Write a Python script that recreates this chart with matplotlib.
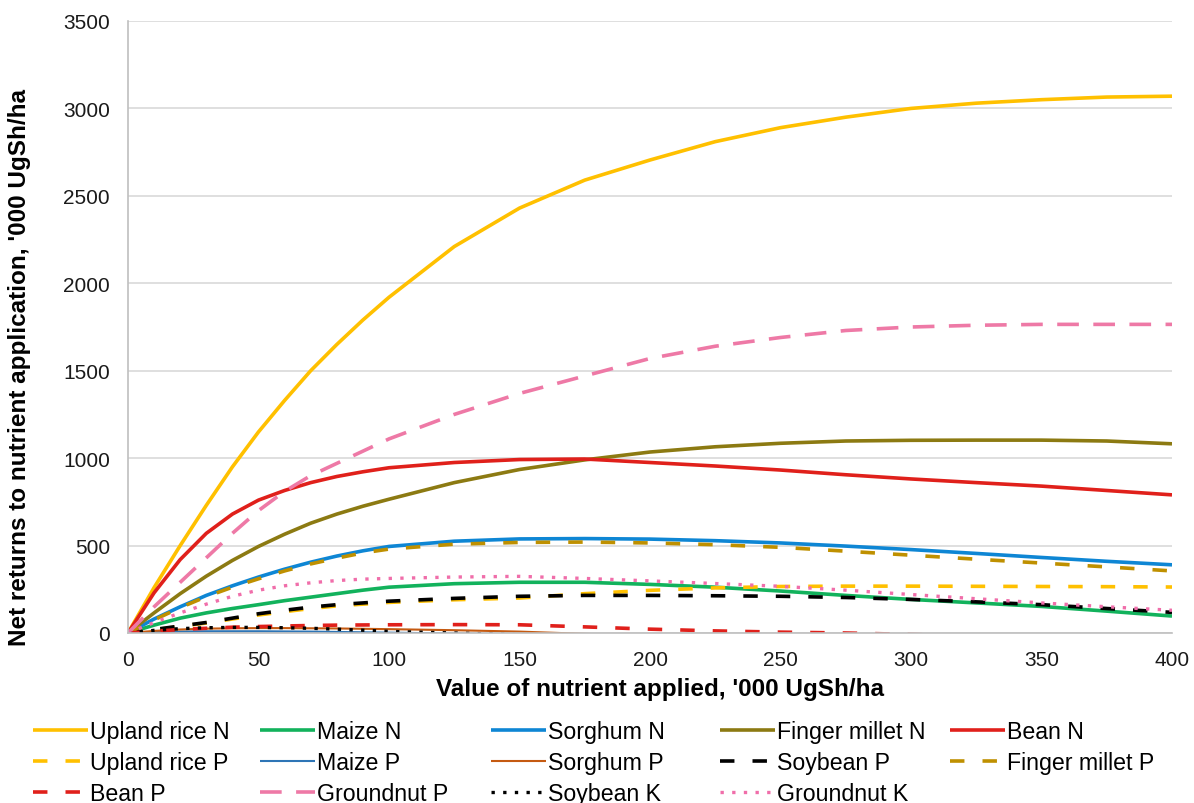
"""
Net returns to nutrient application vs value of nutrient applied,
one line per crop x nutrient. Saves out.png.
"""

import matplotlib.pyplot as plt

# =====================================================================
# DATA ('000 UgSh/ha)
# =====================================================================
nutrient_value = [0, 10, 20, 30, 40, 50, 60, 70, 80, 90, 100, 125, 150,
                  175, 200, 225, 250, 275, 300, 325, 350, 375, 400]

upland_rice_n = [0, 260, 500, 730, 950, 1150, 1330, 1500, 1650, 1790, 1920,
                 2210, 2430, 2590, 2705, 2810, 2890, 2950, 3000, 3030, 3050,
                 3065, 3070]
maize_n = [0, 45, 85, 115, 140, 162, 185, 205, 225, 245, 262, 282, 290,
           290, 278, 262, 240, 215, 192, 172, 152, 125, 97]
sorghum_n = [0, 80, 150, 215, 270, 320, 365, 405, 440, 470, 495, 525, 538,
             540, 537, 528, 515, 497, 477, 455, 432, 410, 390]
finger_millet_n = [0, 115, 225, 325, 415, 495, 565, 628, 680, 725, 765, 860,
                   935, 990, 1035, 1065, 1085, 1098, 1102, 1103, 1103, 1098,
                   1082]
bean_n = [0, 230, 420, 570, 680, 760, 815, 860, 895, 922, 945, 975, 992,
          995, 975, 955, 932, 905, 881, 860, 840, 815, 790]
upland_rice_p = [0, 18, 38, 57, 80, 103, 122, 140, 155, 165, 175, 190, 200,
                 225, 244, 258, 266, 268, 268, 267, 266, 265, 263]
maize_p = [0, 5, 8, 10, 10, 10, 9, 8, 6, 4, 2, -3, -10, -20, -30, -40, -50,
           -60, -70, -80, -90, -100, -110]
sorghum_p = [0, 12, 20, 25, 27, 28, 28, 27, 26, 24, 22, 16, 8, -5, -15, -25,
             -35, -45, -55, -65, -75, -85, -95]
soybean_p = [0, 20, 40, 60, 85, 110, 130, 148, 162, 172, 182, 198, 210, 215,
             215, 213, 210, 203, 192, 178, 162, 140, 118]
finger_millet_p = [0, 75, 145, 208, 262, 310, 355, 395, 428, 458, 480, 508,
                   518, 520, 515, 505, 490, 468, 445, 422, 400, 378, 355]
bean_p = [0, 10, 20, 27, 33, 37, 40, 43, 45, 46, 47, 48, 47, 35, 22, 12, 5,
          0, -8, -18, -30, -42, -55]
groundnut_p = [0, 150, 290, 430, 570, 700, 810, 900, 970, 1040, 1110, 1250,
               1370, 1470, 1570, 1640, 1690, 1730, 1750, 1760, 1765, 1765,
               1765]
soybean_k = [0, 15, 25, 30, 32, 32, 30, 27, 22, 16, 9, 0, -10, -20, -30, -40,
             -50, -60, -70, -80, -90, -100, -110]
groundnut_k = [0, 60, 115, 165, 210, 245, 270, 287, 300, 308, 312, 320, 324,
               312, 298, 283, 267, 245, 220, 196, 172, 150, 130]

DASH = (0, (4, 5))
LONG_DASH = (0, (6, 4))
DOT = (0, (1, 2.5))

# (label, values, colour, linestyle, linewidth)
SERIES = [
    ("Upland rice N", upland_rice_n, "#FFC000", "-", 2.6),
    ("Maize N", maize_n, "#12B25C", "-", 2.6),
    ("Sorghum N", sorghum_n, "#0E86D4", "-", 2.6),
    ("Finger millet N", finger_millet_n, "#8C7A12", "-", 2.6),
    ("Bean N", bean_n, "#E0201B", "-", 2.6),
    ("Upland rice P", upland_rice_p, "#FFC000", DASH, 2.6),
    ("Maize P", maize_p, "#2E75B6", "-", 1.5),
    ("Sorghum P", sorghum_p, "#C55A11", "-", 1.5),
    ("Soybean P", soybean_p, "#000000", DASH, 2.6),
    ("Finger millet P", finger_millet_p, "#BF9000", DASH, 2.6),
    ("Bean P", bean_p, "#E0201B", DASH, 2.6),
    ("Groundnut P", groundnut_p, "#EE79A6", LONG_DASH, 2.6),
    ("Soybean K", soybean_k, "#000000", DOT, 2.4),
    ("Groundnut K", groundnut_k, "#F06EAA", DOT, 2.4),
]

# legend columns as laid out in the reference (read row by row there)
LEGEND_COLUMNS = [[0, 5, 10], [1, 6, 11], [2, 7, 12], [3, 8, 13], [4, 9]]
LEGEND_COL_X = [33, 260, 491, 720, 950]  # pixel x of each column's handle
# =====================================================================

W, H = 1194, 804
plt.rcParams["font.family"] = ["Liberation Sans", "DejaVu Sans"]

fig = plt.figure(figsize=(W / 100, H / 100), dpi=100)
ax = fig.add_axes([128 / W, 1 - 634 / H, 1044 / W, 612 / H])

handles = []
for label, vals, color, ls, lw in SERIES:
    (h,) = ax.plot(nutrient_value, vals, color=color, linestyle=ls,
                   linewidth=lw, label=label, solid_capstyle="butt",
                   dash_capstyle="butt")
    handles.append(h)

ax.set_xlim(0, 400)
ax.set_ylim(0, 3500)
ax.set_xticks(range(0, 401, 50))
ax.set_yticks(range(0, 3501, 500))
ax.tick_params(axis="both", length=0, labelsize=15, colors="#1a1a1a")
ax.tick_params(axis="y", pad=13)
ax.tick_params(axis="x", pad=12)

ax.grid(axis="y", color="#D9D9D9", linewidth=1.2)
ax.set_axisbelow(True)
for side in ("top", "right"):
    ax.spines[side].set_visible(False)
for side in ("left", "bottom"):
    ax.spines[side].set_color("#BFBFBF")
    ax.spines[side].set_linewidth(1.2)

fig.text(660 / W, 1 - 690 / H, "Value of nutrient applied, '000 UgSh/ha",
         ha="center", va="center", fontsize=17.5, fontweight="bold")
fig.text(20 / W, 1 - 368 / H,
         "Net returns to nutrient application, '000 UgSh/ha",
         ha="center", va="center", rotation=90, fontsize=17.5,
         fontweight="bold")

for col, x_px in zip(LEGEND_COLUMNS, LEGEND_COL_X):
    fig.legend([handles[i] for i in col], [SERIES[i][0] for i in col],
               loc="upper left", bbox_to_anchor=(x_px / W, 1 - 721 / H),
               frameon=False, fontsize=16.7, handlelength=2.37,
               handletextpad=0.08, labelspacing=0.35, borderpad=0,
               borderaxespad=0)

fig.savefig("out.png", dpi=100)
print("Saved plot to out.png")
